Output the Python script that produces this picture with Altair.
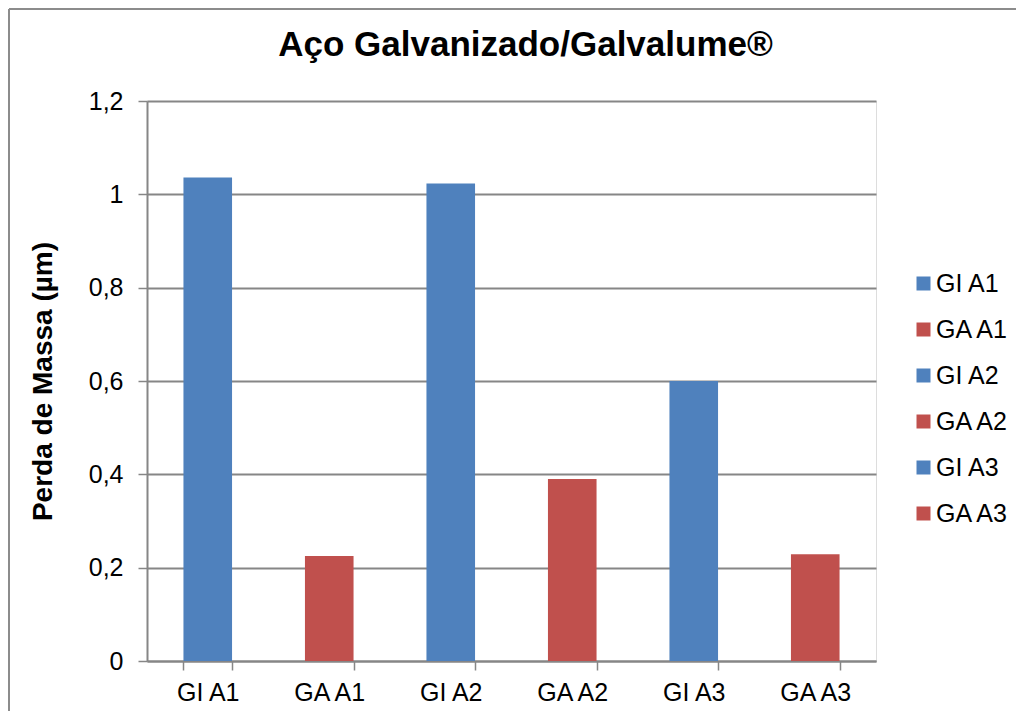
import altair as alt
import pandas as pd

categories = ["GI A1", "GA A1", "GI A2", "GA A2", "GI A3", "GA A3"]
values = [1.036, 0.225, 1.023, 0.390, 0.600, 0.229]
colors = ["#4F81BD", "#C0504D", "#4F81BD", "#C0504D", "#4F81BD", "#C0504D"]
y_ticks = [0, 0.2, 0.4, 0.6, 0.8, 1.0, 1.2]

df = pd.DataFrame({"cat": categories, "val": values})

FONT = "Liberation Sans"
GRAY = "#868686"

bars = alt.Chart(df).mark_bar().encode(
    x=alt.X("cat:N", sort=None, title=None,
            scale=alt.Scale(paddingInner=0.6, paddingOuter=0.3),
            axis=alt.Axis(labelAngle=0, labelFontSize=25, labelFont=FONT, labelColor="#000000",
                          tickBand="extent", tickSize=9, tickColor=GRAY, tickWidth=1.5,
                          domainColor=GRAY, domainWidth=2, labelPadding=10, grid=False)),
    y=alt.Y("val:Q", title="Perda de Massa (µm)",
            scale=alt.Scale(domain=[0, 1.2], nice=False),
            axis=alt.Axis(values=y_ticks, format=".1~f", labelExpr="replace(datum.label, '.', ',')",
                          labelFontSize=25, labelFont=FONT, labelColor="#000000",
                          tickSize=9, tickColor=GRAY, tickWidth=1.5, labelPadding=15,
                          domainColor=GRAY, domainWidth=2,
                          gridColor=GRAY, gridWidth=2,
                          titleFontSize=28, titleFont=FONT, titleFontWeight="bold", titleColor="#000000",
                          titlePadding=31)),
    color=alt.Color("cat:N", sort=None, scale=alt.Scale(domain=categories, range=colors),
                    legend=alt.Legend(title=None, orient="none", legendX=764, legendY=170,
                                      symbolType="square", symbolSize=196, symbolStrokeWidth=0,
                                      labelFontSize=25, labelFont=FONT, labelColor="#000000",
                                      labelOffset=0, rowPadding=20)),
)

frame_top = alt.Chart(df).mark_rule(color="#8c8c8c", strokeWidth=1.5).encode(
    x=alt.value(-138), x2=alt.value(1000), y=alt.value(-92)
)
frame_left = alt.Chart(df).mark_rule(color="#8c8c8c", strokeWidth=1.5).encode(
    x=alt.value(-138), y=alt.value(-92), y2=alt.value(700)
)

chart = alt.layer(frame_top, frame_left, bars).properties(
    width=729, height=560,
    title=alt.TitleParams("Aço Galvanizado/Galvalume®", fontSize=35, font=FONT, fontWeight="bold",
                          color="#000000", anchor="middle", frame="group", offset=-55, dx=14),
    autosize=alt.AutoSizeParams(type="none"),
    padding={"left": 139, "top": 93, "right": 140, "bottom": 50},
).configure_view(stroke=None).configure(background="#ffffff")

chart.save("out.html", embed_options={"renderer": "svg", "actions": False})
